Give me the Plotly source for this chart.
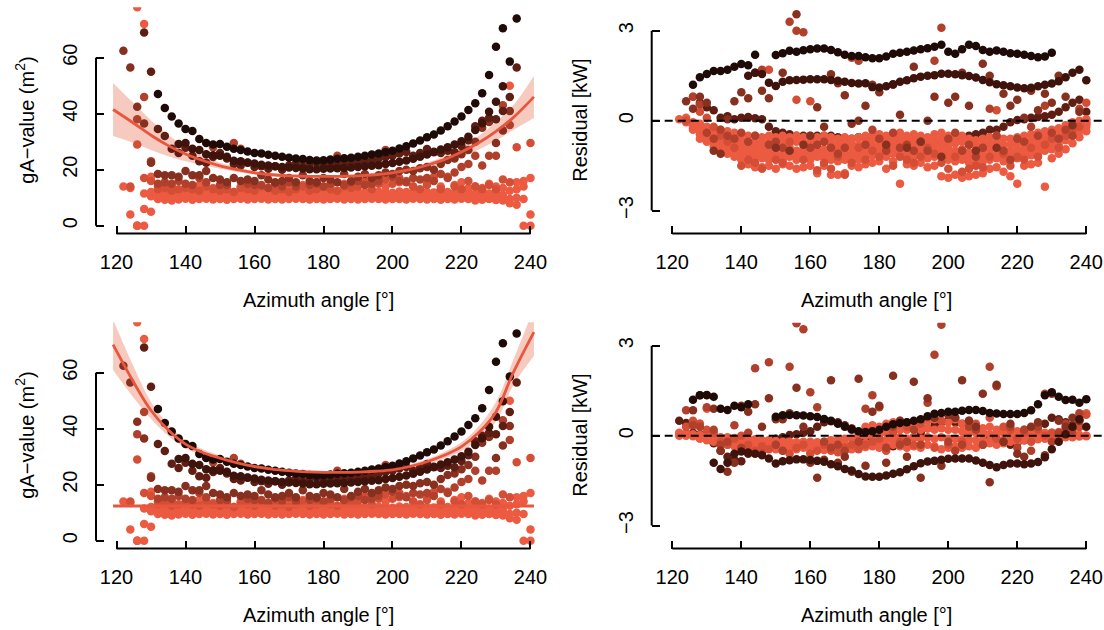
import plotly.graph_objects as go

N = None

# ---------------- shared azimuth grid (degrees) ----------------
AZ = [122, 124, 126, 128, 130, 132, 134, 136, 138, 140, 142, 144, 146, 148, 150,
      152, 154, 156, 158, 160, 162, 164, 166, 168, 170, 172, 174, 176, 178, 180,
      182, 184, 186, 188, 190, 192, 194, 196, 198, 200, 202, 204, 206, 208, 210,
      212, 214, 216, 218, 220, 222, 224, 226, 228, 230, 232, 234, 236, 238, 240]

X_TICKS = [120, 140, 160, 180, 200, 220, 240]
GAVAL_TICKS = [0, 20, 40, 60]
RESID_TICKS = [-3, 0, 3]

# colour levels (darkest -> lightest)
C0, C1, C2, C3, C4, C5, C6 = "#1e0a07", "#3d130c", "#5f1e13", "#87301f", "#b0402b", "#d44e36", "#ec5b41"
FIT_COLOR = "#e8563d"
BAND_COLOR = "#f7cabf"

# ---------------- gA-value series (top-left and bottom-left) ----------------
GA_K0 = [N, N, N, N, N, 47, 42, 39, 36.5, 34.5, 33.8, 31, 29.5, 29, 29.2, 28.2, 27.5, 27, 26.5, 26,
         25.8, 25.3, 25, 24.6, 24.3, 24, 23.8, 23.5, 23.3, 23.4, 23.6, 23.9, 24.1, 24.3, 24.6, 25, 25.4,
         25.8, 26.3, 26.8, 27.6, 28.4, 29.4, 30.4, 31.6, 32.6, 34, 35.5, 37.2, 39, 41.3, 43.7, 47.3,
         53.8, 63.9, 70.5, 58.6, 74, N, N]
GA_K1 = [N, N, N, N, N, N, N, N, 29.2, 29.5, 27.5, 27, 25.5, 25.2, 25, 24.6, 23.2, 23, 22.6, 22.2,
         21.8, 21.5, 21.2, 21, 20.8, 20.6, 20.4, 20.2, 20.2, 20.3, 20.4, 20.5, 20.6, 20.8, 21, 21.2,
         21.4, 21.6, 22, 22.4, 22.8, 23.3, 23.9, 24.6, 25.4, 26.4, 27.2, 28, 29, 30.2, 31.8, 34.2,
         36.6, 40.7, 44.3, 49.8, N, N, N, N]
GA_K2 = [N, N, N, 69, 55, 34.5, 32, 27.5, 26, 27.8, 25, 23, 22.5, 24.5, 26, 24, 22, 21.5, 22.5, 21,
         21.2, 20.3, 21.2, 20, 21.5, 22.2, 21, 22, 22.5, 21.5, 22, 21.8, 22.4, 22.8, 22.3, 23.5, 23,
         24, 24.5, 25, 25.8, 26.3, 25, 26, 27.4, 26.2, 26, 26.8, 26.2, 28.5, 30.5, 35.5, 37.5, 38.5,
         38, 41, 46, 56.5, N, N]
GA_K3 = [62.5, 56.5, 42.5, 36.5, 22.5, 18.5, 18, 18, 17.5, 19.5, 18, 18, 19.5, 17, 16.5, 15.5, 17,
         16, 16.5, 16, 18, 16.5, 15.5, 16, 17, 15.5, 18, 16, 15.5, 17, 16.5, 15.5, 18.5, 16, 17.5,
         18.5, 17, 18, 19, 18.5, 19.5, 20, 19.5, 20.5, 21, 20, 22, 23.5, 24, 25.5, 27, 30, 35, 37,
         29.5, 34, 41, N, N, N]
GA_K4 = [N, N, 38, 46, 23, 15, 15.5, 15, 16, 15, 14.5, 17, 15.5, 28, 14.5, 14.5, 29.5, 27.5, 15,
         14.5, 14.5, 13.5, 15, 14, 15.5, 14, 22.5, 14.5, 15, 14, 15, 25, 14.5, 15.5, 16, 14.5, 15, 16,
         27, 17.5, 16, 15.5, 17, 16.5, 17, 16, 18.5, 17, 19, 21, 22, 25, 21.5, 25, 25, 43, 36, N, N, N]
GA_K5 = [N, 14, 29, 17, 16, 13, 13.5, 12.5, 13, 13.5, 13, 12.5, 14, 13, 12.5, 13, 12, 13.5, 13, 12.5,
         14, 13.5, 12.5, 13, 12, 13, 14, 12.5, 13, 14, 13, 12.5, 14, 13.5, 14, 16, 13, 15, 16.5, 15,
         17, 16, 14, 13, 14.5, 17.5, 13, 17.5, 14, 13, 16, 14, 13, 14.5, 13, 16.5, 15.5, 28, N, 29.5]
GA_O1 = [N, 4, 0, 0, 5, 9.5, 9.3, 9.0, 9.4, 9.6, 9.3, 9.5, 9.6, 9.4, 9.5, 9.3, 9.5, 9.6, 9.4, 9.5,
         9.6, 9.4, 9.5, 9.4, 9.5, 9.6, 9.5, 9.4, 9.5, 9.4, 9.5, 9.6, 9.4, 9.5, 9.4, 9.5, 9.6, 9.5,
         9.4, 9.5, 9.5, 9.4, 9.6, 9.5, 9.4, 9.5, 9.3, 9.5, 9.4, 9.6, 9.5, 9.0, 9.3, 9.5, 9.2, 9.0,
         8.0, 7.5, 0, 0]
GA_O2 = [14, N, 0, 6, 10.5, 10.8, 10.5, 10.3, 10.6, 10.5, 10.8, 10.6, 10.5, 10.7, 10.5, 10.6, 10.8,
         10.5, 10.6, 10.5, 10.7, 10.6, 10.5, 10.8, 10.6, 10.5, 10.7, 10.6, 10.5, 10.8, 10.6, 10.5,
         10.7, 10.5, 10.6, 10.8, 10.5, 10.6, 10.7, 10.5, 10.6, 10.8, 10.5, 10.6, 10.7, 10.5, 10.6,
         10.8, 10.5, 10.6, 10.4, 10.2, 10.5, 10.3, 10.0, 10.5, 9.5, 10.0, 9.5, 4]
GA_O3 = [N, 13.5, 0, 11.5, 12, 12, 11.8, 12.2, 12, 11.8, 12.1, 12, 11.8, 12.2, 12, 11.7, 12, 12.2,
         11.9, 12, 12.2, 11.9, 12.1, 12, 11.8, 12.1, 12, 11.9, 12.2, 12, 11.8, 12.1, 12, 11.8, 12.2,
         12, 11.9, 12.1, 12, 11.8, 12.2, 12, 11.8, 12.1, 12, 11.9, 12.2, 12, 11.8, 12.1, 12, 11.5,
         12, 11.5, 12, 11.0, 12.5, 13, 14, 17]
GA_O4 = [N, N, 78, 72, 17.5, 14, 13.5, 14, N, 13.5, N, 14.5, N, 13.5, N, 14, N, 14, 15.5, N, 14, N,
         15, N, 14, N, 14.5, N, 15.5, N, 14, N, 15, N, 14.5, N, 15, N, 14, N, 15.5, N, 14, N, 15, N,
         14, N, 14.5, 15.5, 13.5, 14, 13.5, 15, 14, 13.5, 50, 15.5, 16, N]

# ---------------- fitted curves (gA-value) ----------------
FIT_X = [119, 125, 130, 135, 140, 145, 150, 155, 160, 165, 170, 175, 180, 185, 190, 195, 200,
         205, 210, 215, 220, 225, 230, 235, 241]
FIT1 = [41.5, 36.6, 32.3, 28.6, 25.6, 23.3, 21.4, 20.0, 18.9, 18.2, 17.8, 17.6, 17.6, 17.6, 17.8,
        18.2, 18.9, 20.0, 21.6, 23.6, 26.3, 29.6, 33.7, 38.6, 46.0]
FIT1_LO = [32.0, 29.5, 27.0, 24.8, 23.0, 21.6, 20.3, 19.2, 18.3, 17.7, 17.3, 17.1, 17.1, 17.1, 17.3,
           17.7, 18.3, 19.3, 20.7, 22.4, 24.6, 27.2, 30.4, 34.2, 38.5]
FIT1_HI = [51.0, 43.7, 37.6, 32.4, 28.2, 25.0, 22.5, 20.8, 19.5, 18.7, 18.3, 18.1, 18.1, 18.1, 18.3,
           18.7, 19.5, 20.7, 22.5, 24.8, 28.0, 32.0, 37.0, 43.0, 53.5]
FIT2 = [70.0, 56.5, 46.5, 39.5, 34.5, 31.5, 29.5, 27.8, 26.5, 25.6, 25.0, 24.6, 24.4, 24.4, 24.5,
        24.8, 25.3, 26.5, 28.2, 30.5, 33.6, 38.6, 46.0, 60.0, 74.5]
FIT2_LO = [61.0, 51.0, 43.5, 37.5, 33.0, 30.3, 28.5, 27.1, 25.9, 25.1, 24.5, 24.1, 23.9, 23.9, 24.0,
           24.3, 24.8, 25.8, 27.3, 29.3, 32.0, 36.3, 42.5, 55.5, 66.0]
FIT2_HI = [79.0, 62.0, 49.5, 41.5, 36.0, 32.7, 30.5, 28.5, 27.1, 26.1, 25.5, 25.1, 24.9, 24.9, 25.0,
           25.3, 25.8, 27.2, 29.1, 31.7, 35.2, 40.9, 49.5, 64.5, 83.0]
FLAT_X = [119, 241]
FLAT_Y = [12.4, 12.4]

# ---------------- residuals, model 1 (top-right) ----------------
R1_K0 = [N, N, 1.2, 1.45, 1.56, 1.66, 1.66, 1.7, 1.8, 1.89, 1.85, 2.2, N, N, 2.19, 2.25, 2.33, 2.3,
         2.35, 2.38, 2.41, 2.41, 2.36, 2.28, 2.2, 2.16, 2.16, 2.12, 2.08, 2.08, 2.14, 2.23, 2.27, 2.3,
         2.34, 2.38, 2.42, 2.47, 2.53, 2.3, 2.23, 2.38, 2.53, 2.49, 2.36, 2.3, 2.34, 2.3, 2.25, 2.23,
         2.2, 2.16, 2.12, 2.14, 2.27, N, N, N, N, N]
R1_K1 = [N, N, N, N, N, N, N, N, N, N, 1.5, 1.6, 1.56, 1.27, 1.16, 1.3, 1.35, 1.36, 1.37, 1.38, 1.38,
         1.38, 1.36, 1.33, 1.3, 1.26, 1.24, 1.25, 1.12, 1.11, 1.15, 1.22, 1.3, 1.35, 1.42, 1.47, 1.5,
         1.52, 1.57, 1.57, 1.55, 1.52, 1.49, 1.44, 1.36, 1.28, 1.22, 1.18, 1.15, 1.11, 1.08, 1.1,
         1.15, 1.2, 1.24, 1.32, 1.45, 1.6, 1.7, 1.35]
R1_K2 = [N, N, N, 0.6, 0.45, 0.35, 0.1, 0.15, 0.05, 0.1, 0.12, 0.08, 0.05, -0.2, -0.35, -0.4, -0.45,
         -0.5, -0.5, -0.55, -0.5, -0.5, -0.5, -0.55, -0.6, -0.6, -0.55, -0.55, -0.5, -0.5, -0.55, -0.6,
         -0.65, -0.7, -0.72, -0.75, -0.78, -0.8, -0.75, -0.7, -0.62, -0.55, -0.5, -0.45, -0.4, -0.3,
         -0.3, -0.2, -0.05, 0.02, 0.05, 0.1, 0.12, 0.15, 0.2, 0.3, 0.45, 0.6, 0.7, 0.3]
R1_K3 = [N, 0.65, 0.4, 0.8, 0.6, -1.0, -1.1, 0.05, 0.65, 0.95, 0.75, 1.6, 1.0, 0.75, -0.9, 1.6, -1.0,
         3.55, -0.8, -0.5, 0.45, -0.2, 1.55, 1.25, 0.85, -0.1, 0.0, 0.5, 1.2, 0.95, -0.8, 1.2, 0.2,
         -0.9, 1.8, -0.7, 0.0, 0.8, -1.2, 0.6, 0.8, 1.6, 0.5, -1.0, 1.9, 1.5, -0.9, 0.9, 0.5, 0.7,
         0.1, 1.0, 0.35, 0.9, 0.6, 1.5, 0.8, -0.15, 0.3, N]
R1_K4 = [N, N, 0.8, 0.55, -0.4, -0.6, -0.3, -0.5, -0.6, -0.4, -0.7, -0.5, 1.7, -0.8, -0.7, -0.9, 3.3,
         3.0, 2.95, -0.9, -0.8, -0.7, -0.9, -1.1, -0.9, 2.1, 2.0, -0.8, -0.3, -0.6, -1.0, -0.4, -0.9,
         -0.8, -1.0, -0.7, -1.0, 2.0, 3.1, -0.6, -0.4, -1.0, -0.8, -1.2, -0.9, 0.4, -0.5, -1.0, -1.3,
         -0.6, -0.7, -0.2, -0.5, 0.5, -0.4, -0.6, -0.3, -0.5, 0.4, N]
R1_K5 = [N, 0.0, 0.8, 0.3, 0.1, -0.2, -0.5, -0.7, -0.9, -1.5, -1.3, -1.4, -1.6, 1.7, -1.3, -1.4, -0.7,
         0.7, -1.3, 0.65, -1.65, -1.4, -1.6, -1.2, -1.8, -1.4, -0.9, -1.3, -1.0, -1.2, -0.9, -1.5,
         -1.2, -1.3, -1.4, -1.2, -0.9, -1.1, -1.4, -1.6, -1.2, -1.7, -1.6, -1.5, -1.55, -1.2, 0.35,
         -1.1, -1.5, -1.2, -1.3, -0.9, -1.2, -0.8, -0.6, -0.9, -0.5, -0.3, -0.2, 0.6]
R1_O1 = [0.05, 0.0, -0.05, -0.1, -0.2, -0.25, -0.3, -0.35, -0.4, -0.45, -0.5, -0.5, -0.55, -0.5,
         -0.55, -0.5, -0.55, -0.5, -0.55, -0.5, -0.55, -0.5, -0.55, -0.6, -0.55, -0.6, -0.55, -0.5,
         -0.5, -0.45, -0.5, -0.45, -0.4, -0.5, -0.45, -0.5, -0.55, -0.45, -0.4, -0.5, -0.55, -0.5,
         -0.6, -0.65, -0.6, -0.55, -0.5, -0.6, -0.6, -0.55, -0.5, -0.45, -0.4, -0.35, -0.3, -0.25,
         -0.15, -0.05, 0.0, 0.0]
R1_O2 = [N, -0.05, -0.2, -0.3, -0.4, -0.5, -0.6, -0.7, -0.75, -0.8, -0.85, -0.9, -0.9, -0.95, -0.9,
         -0.95, -0.9, -1.0, -0.95, -0.9, -1.0, -0.95, -0.9, -1.0, -0.95, -0.9, -1.0, -0.9, -0.85, -0.8,
         -0.85, -0.8, -0.75, -0.85, -0.8, -0.85, -0.9, -0.85, -0.8, -0.9, -1.0, -0.95, -1.05, -1.1,
         -1.0, -0.95, -0.9, -1.0, -1.0, -0.95, -0.9, -0.85, -0.8, -0.7, -0.65, -0.5, -0.4, -0.3,
         -0.2, -0.1]
R1_O3 = [N, N, -0.3, -0.45, -0.55, -0.7, -0.8, -0.9, -1.0, -1.1, -1.15, -1.2, -1.25, -1.3, -1.25,
         -1.3, -1.2, -1.3, -1.25, -1.3, -1.2, -1.25, -1.3, -1.35, -1.3, -1.25, -1.3, -1.2, -1.15, -1.1,
         -1.2, -1.1, -1.05, -1.15, -1.2, -1.15, -1.25, -1.2, -1.15, -1.3, -1.35, -1.3, -1.4, -1.45,
         -1.35, -1.3, -1.25, -1.35, -1.3, -1.25, -1.2, -1.15, -1.1, -1.0, -0.95, -0.8, -0.65, -0.5,
         -0.35, -0.2]
R1_O4 = [N, N, N, -0.6, -0.7, -0.85, -1.0, -1.1, -1.2, -1.3, -1.45, -1.55, -1.55, -1.5, -1.6, -1.45,
         -1.5, -1.6, -1.55, -1.5, -1.75, -1.5, -1.8, -1.8, -1.75, -1.5, -1.55, -1.45, -1.4, -1.35,
         -1.6, -1.35, -2.1, -1.45, -1.5, -1.4, -1.55, -1.5, -1.85, -1.9, -1.8, -1.9, -1.85, -1.8,
         -1.75, -1.6, -1.55, -1.7, -1.85, -2.1, -1.5, -1.45, -1.4, -2.2, -1.25, -1.1, -0.95, -0.75,
         -0.55, -0.35]
R1_O5 = [N, 0.1, -0.1, -0.2, -0.3, -0.4, -0.45, -0.55, -0.6, -0.65, -0.7, -0.7, -0.75, -0.7, -0.75,
         -0.7, -0.75, -0.7, -0.75, -0.7, -0.75, -0.7, -0.75, -0.8, -0.75, -0.75, -0.8, -0.7, -0.65,
         -0.65, -0.7, -0.6, -0.6, -0.7, -0.65, -0.7, -0.75, -0.65, -0.6, -0.7, -0.75, -0.7, -0.8,
         -0.85, -0.8, -0.75, -0.7, -0.8, -0.8, -0.75, -0.7, -0.65, -0.6, -0.5, -0.45, -0.4, -0.3,
         -0.2, -0.1, 0.05]
R1_O6 = [N, N, -0.25, -0.35, -0.45, -0.6, -0.7, -0.8, -0.9, -0.95, -1.0, -1.05, -1.1, -1.1, -1.1,
         -1.15, -1.05, -1.15, -1.1, -1.1, -1.1, -1.1, -1.1, -1.15, -1.1, -1.1, -1.15, -1.05, -1.0,
         -0.95, -1.0, -0.95, -0.9, -1.0, -1.0, -1.0, -1.05, -1.05, -1.0, -1.1, -1.15, -1.1, -1.2,
         -1.25, -1.2, -1.15, -1.1, -1.2, -1.15, -1.1, -1.05, -1.0, -0.95, -0.85, -0.8, -0.65, -0.55,
         -0.4, -0.25, -0.1]

# ---------------- residuals, model 2 (bottom-right) ----------------
R2_K0 = [N, N, 1.2, 1.35, 1.36, 1.3, 0.9, 0.86, 1.0, 0.95, 1.05, N, N, N, 0.63, 0.68, 0.69, 0.68,
         0.67, 0.65, 0.62, 0.56, 0.5, 0.4, 0.3, 0.22, 0.15, 0.12, 0.15, 0.2, 0.3, 0.38, 0.42, 0.45,
         0.5, 0.55, 0.65, 0.73, 0.76, 0.8, 0.8, 0.83, 0.86, 0.86, 0.82, 0.76, 0.74, 0.72, 0.72, 0.72,
         0.76, 0.85, 1.05, 1.35, 1.45, 1.3, 1.19, 1.2, 1.1, 1.22]
R2_K1 = [N, N, N, N, N, -0.9, -1.11, -0.9, -0.6, -0.53, -0.56, -0.6, -0.65, -0.76, -0.93, -0.85,
         -0.82, -0.79, -0.79, -0.81, -0.84, -0.87, -0.95, -1.02, -1.11, -1.16, -1.28, -1.36, -1.37,
         -1.37, -1.33, -1.27, -1.22, -1.12, -1.02, -0.92, -0.86, -0.84, -0.8, -0.77, -0.76, -0.76,
         -0.76, -0.83, -0.9, -0.98, -1.05, -0.98, -0.93, -0.93, -0.95, -0.93, -0.88, -0.72, -0.45,
         -0.2, 0.05, 0.3, 0.55, 0.3]
R2_K2 = [0.5, 0.42, 0.1, 0.05, -0.1, -0.25, -0.5, -0.7, -0.8, -0.85, -0.6, -0.45, -0.3, -0.2, -0.1,
         -0.05, 0.02, 0.05, 0.1, 0.15, 0.3, 0.45, 0.48, 0.45, 0.35, 0.2, 0.1, -0.1, -0.2, -0.3, -0.35,
         -0.35, -0.3, -0.2, -0.05, 0.1, 0.25, 0.35, 0.45, 0.5, 0.45, 0.4, 0.3, 0.2, 0.1, 0.0, -0.1,
         -0.2, -0.3, -0.25, -0.15, -0.05, 0.1, 0.4, 0.6, 0.55, 0.45, 0.35, 0.3, N]
R2_K3 = [N, N, 0.85, 1.35, 1.35, 0.9, -0.5, -1.2, -0.9, 1.0, 0.8, 1.05, 0.3, 1.25, 0.55, 0.55, 0.75,
         1.6, 0.3, -0.9, -1.4, -0.8, 1.85, -0.9, -0.7, -1.2, 1.9, -1.0, 0.8, 1.0, -0.9, 2.0, 0.5,
         -0.7, 1.8, -1.4, 1.25, 0.6, -1.0, 0.7, 0.6, 1.85, 0.5, 0.3, 1.4, -1.55, 1.7, -0.2, 0.4,
         -0.6, -0.7, 0.3, 0.45, -0.65, 1.4, 0.5, 0.3, 0.6, 0.5, N]
R2_K4 = [N, 0.85, 0.35, 0.3, 0.95, 0.2, -0.3, -0.2, 0.35, -0.4, 0.1, 2.25, -0.6, 2.45, -0.3, -0.5,
         2.3, 3.75, 3.55, 1.45, 0.95, -0.2, -0.4, -0.3, -0.5, 0.25, -0.2, 0.9, 1.35, 0.95, -0.4, 0.3,
         -0.3, -0.2, 0.2, -0.3, 1.1, 2.7, 3.7, -0.2, -0.5, -0.3, 0.3, 0.2, -0.3, 2.3, 1.65, -0.2, 0.3,
         -0.4, 0.2, -0.5, 0.3, 1.4, -0.2, 0.1, 0.4, 0.2, 0.75, N]
R2_K5 = [N, 0.3, 0.5, 0.4, 0.2, 0.1, -0.2, -0.3, -0.1, 0.0, -0.3, -0.5, -0.35, -0.45, -0.3, -0.5,
         -0.6, -0.4, -0.3, -0.6, -0.5, -0.3, -0.5, -0.55, -0.4, -0.3, -0.45, -0.3, -0.2, -0.1, -0.5,
         0.1, -0.2, 0.3, -0.3, 0.4, 0.6, -0.4, 0.5, -0.3, 0.6, -0.2, 0.5, 0.4, -0.3, 0.6, -0.1, 0.3,
         0.2, -0.1, 0.1, -0.2, 0.2, 0.0, 0.1, -0.1, 0.2, 0.1, 0.3, 0.7]
R2_O1 = [0.1, 0.08, 0.05, 0.02, 0.0, -0.02, -0.05, -0.05, -0.08, -0.1, -0.1, -0.12, -0.15, -0.15,
         -0.18, -0.2, -0.2, -0.22, -0.2, -0.2, -0.22, -0.2, -0.15, -0.15, -0.1, -0.1, -0.05, 0.0,
         0.05, 0.05, 0.1, 0.15, 0.2, 0.2, 0.25, 0.2, 0.25, 0.2, 0.25, 0.2, 0.2, 0.15, 0.1, 0.1, 0.05,
         0.05, 0.05, 0.1, 0.1, 0.05, 0.05, 0.05, 0.05, 0.02, 0.0, 0.0, 0.0, 0.0, 0.0, 0.0]
R2_O2 = [0.0, 0.0, -0.02, -0.05, -0.1, -0.12, -0.15, -0.18, -0.2, -0.22, -0.25, -0.25, -0.28, -0.3,
         -0.3, -0.32, -0.35, -0.33, -0.35, -0.35, -0.38, -0.35, -0.33, -0.35, -0.3, -0.3, -0.28,
         -0.25, -0.2, -0.2, -0.15, -0.1, -0.05, -0.1, -0.05, -0.1, -0.05, -0.1, -0.05, -0.1, -0.1,
         -0.12, -0.15, -0.15, -0.15, -0.2, -0.15, -0.15, -0.1, -0.1, -0.1, -0.08, -0.05, -0.05,
         -0.03, -0.02, 0.0, 0.0, 0.02, 0.0]
R2_O3 = [N, N, N, -0.1, -0.15, -0.2, -0.25, -0.3, -0.35, -0.38, -0.4, -0.35, -0.4, -0.42, -0.45,
         -0.4, -0.42, -0.45, -0.4, -0.5, -0.45, -0.48, -0.45, -0.5, -0.42, -0.45, -0.4, -0.38, -0.35,
         -0.4, -0.35, -0.3, -0.35, -0.4, -0.35, -0.4, -0.3, -0.35, -0.45, -0.4, -0.35, -0.4, -0.35,
         -0.4, -0.3, -0.25, -0.3, -0.25, -0.2, -0.2, -0.15, -0.15, -0.12, -0.1, -0.1, -0.08, -0.05,
         -0.05, -0.03, -0.02]
R2_O4 = [N, N, 0.45, 0.4, 0.9, N, N, N, N, N, N, N, N, N, N, N, N, N, N, N, N, N, N, N, N, N, N,
         0.3, 0.35, 0.3, 0.4, 0.45, 0.5, 0.45, 0.3, 0.45, 0.5, 0.55, 0.5, 0.45, 0.55, 0.4, 0.3, 0.35,
         0.25, 0.3, 0.2, 0.25, 0.2, 0.15, 0.2, 0.15, 0.1, 0.1, 0.1, 0.12, 0.2, 0.3, 0.5, 0.75]

ALL_SERIES = {
    "GA_K0": GA_K0, "GA_K1": GA_K1, "GA_K2": GA_K2, "GA_K3": GA_K3, "GA_K4": GA_K4, "GA_K5": GA_K5,
    "GA_O1": GA_O1, "GA_O2": GA_O2, "GA_O3": GA_O3, "GA_O4": GA_O4,
    "R1_K0": R1_K0, "R1_K1": R1_K1, "R1_K2": R1_K2, "R1_K3": R1_K3, "R1_K4": R1_K4, "R1_K5": R1_K5,
    "R1_O1": R1_O1, "R1_O2": R1_O2, "R1_O3": R1_O3, "R1_O4": R1_O4, "R1_O5": R1_O5, "R1_O6": R1_O6,
    "R2_K0": R2_K0, "R2_K1": R2_K1, "R2_K2": R2_K2, "R2_K3": R2_K3, "R2_K4": R2_K4, "R2_K5": R2_K5,
    "R2_O1": R2_O1, "R2_O2": R2_O2, "R2_O3": R2_O3, "R2_O4": R2_O4,
}
for _name, _arr in ALL_SERIES.items():
    assert len(_arr) == len(AZ), (_name, len(_arr))

# ---------------- layout geometry (pixels of a 1104 x 630 page) ----------------
W, H = 1104, 630


def px_x(p):
    return p / W


def px_y(p):
    return 1 - p / H


FONT = "Liberation Sans, Arial, Helvetica, sans-serif"
FS = 20
MSIZE = 8.5

fig = go.Figure()


def add_points(series, xa, ya):
    for vals, col in series:
        fig.add_trace(go.Scatter(x=AZ, y=vals, mode="markers", xaxis=xa, yaxis=ya,
                                 marker=dict(size=MSIZE, color=col, line=dict(width=0)),
                                 hoverinfo="skip", showlegend=False))


def add_band(lo, hi, xa, ya):
    fig.add_trace(go.Scatter(x=FIT_X, y=lo, mode="lines", line=dict(width=0, color=BAND_COLOR, shape="spline"),
                             xaxis=xa, yaxis=ya, hoverinfo="skip", showlegend=False))
    fig.add_trace(go.Scatter(x=FIT_X, y=hi, mode="lines", line=dict(width=0, color=BAND_COLOR, shape="spline"),
                             fill="tonexty", fillcolor=BAND_COLOR, xaxis=xa, yaxis=ya,
                             hoverinfo="skip", showlegend=False))


def add_line(xs, ys, xa, ya):
    fig.add_trace(go.Scatter(x=xs, y=ys, mode="lines", line=dict(width=2.8, color=FIT_COLOR, shape="spline"),
                             xaxis=xa, yaxis=ya, hoverinfo="skip", showlegend=False))


GA_SET = [(GA_O1, C6), (GA_O2, C6), (GA_O3, C6), (GA_O4, C6), (GA_K5, C5), (GA_K4, C4),
          (GA_K3, C3), (GA_K2, C2), (GA_K1, C1), (GA_K0, C0)]
R1_SET = [(R1_K2, C2), (R1_O1, C6), (R1_O2, C6), (R1_O3, C6), (R1_O4, C6), (R1_O5, C6), (R1_O6, C6),
          (R1_K5, C5), (R1_K4, C4), (R1_K3, C3), (R1_K1, C1), (R1_K0, C0)]
R2_SET = [(R2_K2, C2), (R2_O1, C6), (R2_O2, C6), (R2_O3, C6), (R2_O4, C6), (R2_K5, C5), (R2_K4, C4),
          (R2_K3, C3), (R2_K1, C1), (R2_K0, C0)]

# top-left
add_band(FIT1_LO, FIT1_HI, "x", "y")
add_points(GA_SET, "x", "y")
add_line(FIT_X, FIT1, "x", "y")
# top-right
add_points(R1_SET, "x2", "y2")
# bottom-left
add_band(FIT2_LO, FIT2_HI, "x3", "y3")
add_points(GA_SET, "x3", "y3")
add_line(FIT_X, FIT2, "x3", "y3")
add_line(FLAT_X, FLAT_Y, "x3", "y3")
# bottom-right
add_points(R2_SET, "x4", "y4")

LEFT_X = [114.05, 245.95]
RIGHT_X = [114.03, 245.13]
GA_RANGE = [-2.786, 78.0]
RES_RANGE = [-3.764, 3.770]


def xax(dom, rng, anchor):
    return dict(domain=dom, range=rng, showgrid=False, zeroline=False, showline=False,
                ticks="inside", ticklen=8, tickwidth=2, tickcolor="black",
                tickvals=X_TICKS, ticktext=[str(v) for v in X_TICKS],
                tickfont=dict(family=FONT, size=FS, color="black"),
                ticklabelstandoff=14, anchor=anchor, fixedrange=True)


def yax(dom, rng, ticks, anchor):
    return dict(domain=dom, range=rng, showgrid=False, zeroline=False, showline=False,
                ticks="inside", ticklen=8, tickwidth=2, tickcolor="black",
                tickvals=ticks, ticktext=[str(v).replace("-", "\u2212") for v in ticks],
                tickangle=-90, tickfont=dict(family=FONT, size=FS, color="black"),
                ticklabelstandoff=14, anchor=anchor, fixedrange=True)


fig.update_layout(
    width=W, height=H, margin=dict(l=0, r=0, t=0, b=0),
    paper_bgcolor="white", plot_bgcolor="white", showlegend=False,
    font=dict(family=FONT, size=FS, color="black"),
    xaxis=xax([px_x(96), px_x(551)], LEFT_X, "y"),
    yaxis=yax([px_y(233.5), px_y(7.3)], GA_RANGE, GAVAL_TICKS, "x"),
    xaxis2=xax([px_x(651.7), 1.0], RIGHT_X, "y2"),
    yaxis2=yax([px_y(233.5), px_y(7.7)], RES_RANGE, RESID_TICKS, "x2"),
    xaxis3=xax([px_x(96), px_x(551)], LEFT_X, "y3"),
    yaxis3=yax([px_y(548.5), px_y(322.3)], GA_RANGE, GAVAL_TICKS, "x3"),
    xaxis4=xax([px_x(651.7), 1.0], RIGHT_X, "y4"),
    yaxis4=yax([px_y(548.5), px_y(322.7)], RES_RANGE, RESID_TICKS, "x4"),
)

shapes = []
for xa, ya, yt in [("x", "y", GAVAL_TICKS), ("x2", "y2", RESID_TICKS),
                   ("x3", "y3", GAVAL_TICKS), ("x4", "y4", RESID_TICKS)]:
    shapes.append(dict(type="line", xref=xa, yref=ya + " domain", x0=X_TICKS[0], x1=X_TICKS[-1],
                       y0=0, y1=0, line=dict(color="black", width=2)))
    shapes.append(dict(type="line", xref=xa + " domain", yref=ya, x0=0, x1=0, y0=yt[0], y1=yt[-1],
                       line=dict(color="black", width=2)))
for xa, ya in [("x2", "y2"), ("x4", "y4")]:
    shapes.append(dict(type="line", xref=xa + " domain", yref=ya, x0=0, x1=1, y0=0, y1=0,
                       line=dict(color="black", width=2, dash="8px,5px"), layer="above"))
fig.update_layout(shapes=shapes)

annotations = []
for cx, cy in [(318.5, 300), (876.5, 300), (318.5, 615), (876.5, 615)]:
    annotations.append(dict(text="Azimuth angle [°]", x=px_x(cx), y=px_y(cy), xref="paper", yref="paper",
                            showarrow=False, xanchor="center", yanchor="middle",
                            font=dict(family=FONT, size=FS, color="black")))
for cx, cy, txt in [(25, 120.7, "gA\u2212value (m<sup>2</sup>)"), (580, 120.7, "Residual [kW]"),
                    (25, 435.7, "gA\u2212value (m<sup>2</sup>)"), (580, 435.7, "Residual [kW]")]:
    annotations.append(dict(text=txt, x=px_x(cx), y=px_y(cy), xref="paper", yref="paper",
                            showarrow=False, xanchor="center", yanchor="middle", textangle=-90,
                            font=dict(family=FONT, size=FS, color="black")))
fig.update_layout(annotations=annotations)

fig.write_html("out.html")
